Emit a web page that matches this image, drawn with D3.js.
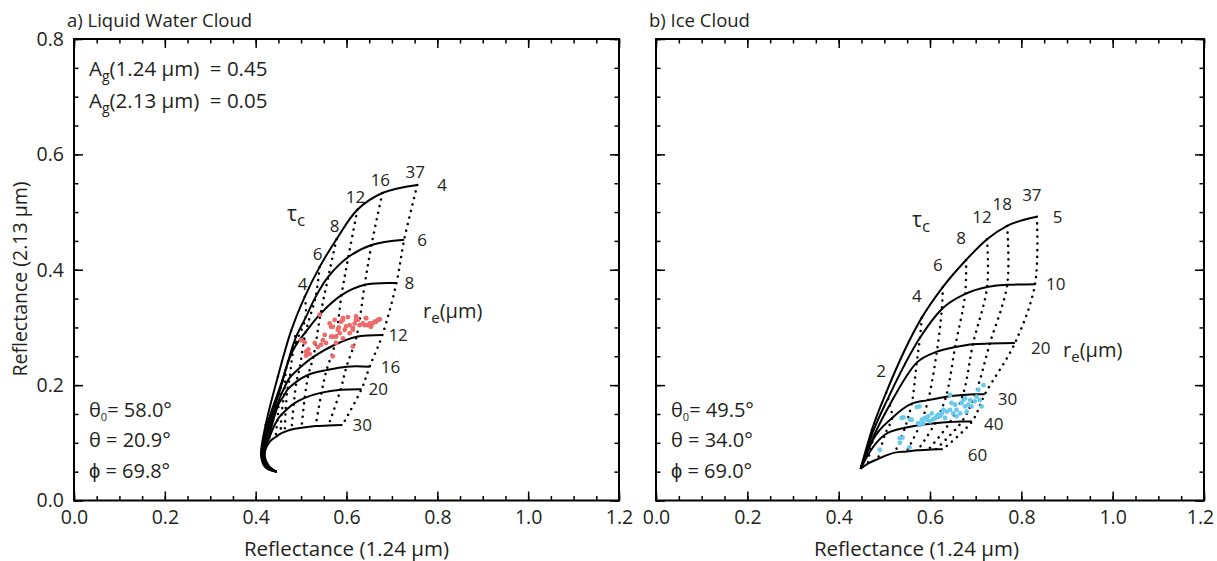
<!DOCTYPE html>
<html>
<head>
<meta charset="utf-8">
<script src="https://cdn.jsdelivr.net/npm/d3@7"></script>
<style>
  body { margin: 0; background: #fff; }
  svg text { font-family: "Open Sans", sans-serif; fill: #231f20; }
  .tick text { font-size: 19.5px; }
</style>
</head>
<body>
<svg id="chart" width="1217" height="561"></svg>
<script>

// shared axes
const xTicks = [0, 0.2, 0.4, 0.6, 0.8, 1.0, 1.2];
const yTicks = [0, 0.2, 0.4, 0.6, 0.8];

// liquid water cloud lookup table: rows = effective radius, columns = optical thickness
const liqRe = [4, 6, 8, 12, 16, 20, 30];
const liqTau = [0, 0.25, 0.5, 1, 2, 3, 4, 6, 8, 12, 16, 37];
const liqTauLabels = [4, 6, 8, 12, 16, 37];
const liqR124 = [
    [0.446, 0.422, 0.412, 0.422, 0.449, 0.478, 0.508, 0.541, 0.578, 0.624, 0.679, 0.756],
    [0.446, 0.423, 0.413, 0.424, 0.459, 0.488, 0.510, 0.532, 0.560, 0.604, 0.655, 0.727],
    [0.446, 0.424, 0.414, 0.426, 0.455, 0.468, 0.484, 0.510, 0.543, 0.589, 0.640, 0.710],
    [0.446, 0.425, 0.415, 0.427, 0.453, 0.464, 0.475, 0.497, 0.527, 0.574, 0.622, 0.679],
    [0.446, 0.426, 0.416, 0.429, 0.451, 0.462, 0.470, 0.490, 0.516, 0.556, 0.600, 0.651],
    [0.446, 0.427, 0.418, 0.430, 0.448, 0.457, 0.466, 0.484, 0.508, 0.545, 0.587, 0.633],
    [0.446, 0.429, 0.420, 0.431, 0.444, 0.455, 0.464, 0.479, 0.501, 0.532, 0.560, 0.591]
];
const liqR213 = [
    [0.050, 0.057, 0.077, 0.131, 0.215, 0.294, 0.353, 0.405, 0.453, 0.504, 0.533, 0.547],
    [0.050, 0.057, 0.077, 0.128, 0.209, 0.282, 0.317, 0.353, 0.388, 0.422, 0.443, 0.452],
    [0.050, 0.057, 0.077, 0.123, 0.195, 0.232, 0.263, 0.292, 0.324, 0.356, 0.374, 0.377],
    [0.050, 0.058, 0.078, 0.117, 0.178, 0.197, 0.213, 0.230, 0.249, 0.270, 0.284, 0.287],
    [0.050, 0.058, 0.079, 0.112, 0.168, 0.181, 0.192, 0.206, 0.218, 0.226, 0.232, 0.232],
    [0.050, 0.059, 0.080, 0.109, 0.140, 0.149, 0.156, 0.168, 0.178, 0.187, 0.192, 0.193],
    [0.050, 0.060, 0.081, 0.102, 0.110, 0.116, 0.119, 0.123, 0.126, 0.129, 0.130, 0.131]
];
// observed pixels (liquid)
const liqObsX = [0.541,0.500,0.508,0.517,0.511,0.548,0.552,0.563,0.570,0.574,0.581,0.588,0.592,0.599,
    0.607,0.614,0.621,0.621,0.629,0.636,0.643,0.647,0.651,0.658,0.662,0.669,0.673,0.607,0.614,0.570,
    0.566,0.577,0.585,0.511,0.519,0.537,0.544,0.555,0.566,0.570,0.577,0.592,0.596,0.592,0.614,0.618,
    0.625,0.640,0.643,0.654,0.665,0.673,0.530,0.516,0.603,0.583];
const liqObsY = [0.322,0.278,0.274,0.254,0.258,0.278,0.287,0.307,0.301,0.313,0.296,0.310,0.316,0.302,
    0.304,0.299,0.313,0.319,0.304,0.307,0.316,0.304,0.307,0.307,0.310,0.313,0.314,0.290,0.267,0.250,
    0.284,0.284,0.290,0.251,0.254,0.266,0.270,0.273,0.301,0.284,0.273,0.313,0.296,0.281,0.296,0.307,
    0.313,0.304,0.316,0.301,0.310,0.314,0.273,0.262,0.318,0.300];

// ice cloud lookup table
const iceRe = [5, 10, 20, 30, 40, 60];
const iceTau = [0, 1, 2, 4, 6, 8, 12, 18, 37];
const iceTauLabels = [2, 4, 6, 8, 12, 18, 37];
const iceR124 = [
    [0.448, 0.473, 0.504, 0.582, 0.628, 0.679, 0.725, 0.769, 0.834],
    [0.448, 0.475, 0.508, 0.578, 0.626, 0.677, 0.725, 0.769, 0.830],
    [0.448, 0.477, 0.512, 0.571, 0.615, 0.655, 0.694, 0.731, 0.786],
    [0.448, 0.475, 0.517, 0.560, 0.596, 0.635, 0.672, 0.699, 0.720],
    [0.448, 0.468, 0.501, 0.545, 0.578, 0.611, 0.644, 0.670, 0.692],
    [0.448, 0.464, 0.486, 0.523, 0.549, 0.573, 0.596, 0.613, 0.628]
];
const iceR213 = [
    [0.055, 0.123, 0.187, 0.317, 0.370, 0.417, 0.453, 0.476, 0.492],
    [0.055, 0.119, 0.177, 0.282, 0.332, 0.358, 0.370, 0.374, 0.375],
    [0.055, 0.112, 0.166, 0.239, 0.258, 0.266, 0.271, 0.272, 0.273],
    [0.055, 0.105, 0.143, 0.168, 0.174, 0.180, 0.183, 0.184, 0.184],
    [0.055, 0.084, 0.114, 0.126, 0.131, 0.134, 0.136, 0.137, 0.137],
    [0.055, 0.064, 0.072, 0.083, 0.085, 0.087, 0.088, 0.089, 0.089]
];
// observed pixels (ice)
const iceObsX = [0.490,0.534,0.540,0.555,0.542,0.560,0.571,0.577,0.574,0.582,0.589,0.596,0.600,0.604,
    0.607,0.615,0.622,0.626,0.629,0.633,0.637,0.644,0.647,0.651,0.655,0.658,0.666,0.669,0.673,0.677,
    0.680,0.684,0.688,0.691,0.698,0.702,0.706,0.709,0.713,0.717,0.644,0.677,0.585,0.578,0.593,0.618,
    0.612,0.658,0.538,0.556,0.534];
const iceObsY = [0.088,0.100,0.109,0.092,0.144,0.140,0.162,0.163,0.134,0.140,0.143,0.146,0.137,0.151,
    0.141,0.146,0.146,0.151,0.157,0.143,0.154,0.157,0.169,0.151,0.166,0.157,0.151,0.169,0.174,0.163,
    0.154,0.166,0.174,0.163,0.172,0.180,0.192,0.174,0.163,0.200,0.183,0.177,0.134,0.131,0.140,0.149,
    0.143,0.146,0.143,0.140,0.108];

const svg = d3.select("#chart");
const plotTop = 39, plotBottom = 500.5;

// text with subscript pieces: [string, fontSize, baselineShift]
function richText(g, x, y, size, parts) {
    const t = g.append("text").attr("x", x).attr("y", y)
        .style("font-size", size + "px").style("white-space", "pre");
    let shift = 0;
    parts.forEach(([s, fs, off]) => {
        off = off || 0;
        t.append("tspan").attr("dy", off - shift).style("font-size", (fs || size) + "px").text(s);
        shift = off;
    });
    return t;
}

function drawPanel(p) {
    const x = d3.scaleLinear().domain([0, 1.2]).range([p.left, p.right]);
    const y = d3.scaleLinear().domain([0, 0.8]).range([plotBottom, plotTop]);
    const g = svg.append("g");

    const minorX = d3.range(0, 1.2001, 0.05);
    const minorY = d3.range(0, 0.8001, 0.05);

    // inward ticks on all four sides
    const axes = [
        [d3.axisBottom(x), `translate(0,${plotBottom})`, minorX, xTicks, true],
        [d3.axisTop(x), `translate(0,${plotTop})`, minorX, xTicks, false],
        [d3.axisLeft(y), `translate(${p.left},0)`, minorY, yTicks, p.yLabels],
        [d3.axisRight(y), `translate(${p.right},0)`, minorY, yTicks, false]
    ];
    axes.forEach(([ax, tr, minor, major, labels], k) => {
        g.append("g").attr("transform", tr)
            .call(ax.tickValues(minor).tickSize(-4.5).tickSizeOuter(0).tickFormat(""))
            .call(s => s.select(".domain").remove())
            .selectAll("line").attr("stroke-width", 1.5);
        const a = g.append("g").attr("transform", tr)
            .call(ax.tickValues(major).tickSize(-9).tickSizeOuter(0).tickPadding(10)
                .tickFormat(labels ? d3.format(".1f") : ""))
            .call(s => s.select(".domain").remove());
        a.selectAll("line").attr("stroke-width", 1.5);
        // keep the last x label inside the page
        if (k === 0 && p.lastLabelDx) {
            a.selectAll(".tick text").filter(d => d === 1.2).attr("dx", p.lastLabelDx);
        }
    });

    g.append("rect")
        .attr("x", x(0)).attr("y", y(0.8))
        .attr("width", x(1.2) - x(0)).attr("height", y(0) - y(0.8))
        .attr("fill", "none").attr("stroke", "#000").attr("stroke-width", 2);

    const tauLine = d3.line().x(d => x(d[0])).y(d => y(d[1])).curve(d3.curveCatmullRom.alpha(0.5));
    const reLine = d3.line().x(d => x(d[0])).y(d => y(d[1])).curve(p.reCurve);

    // constant optical thickness: dotted
    p.tau.forEach((t, j) => {
        if (t < 1) return;
        const pts = p.re.map((r, i) => [p.r124[i][j], p.r213[i][j]]);
        g.append("path").attr("d", tauLine(pts))
            .attr("fill", "none").attr("stroke", "#000").attr("stroke-width", 2.5)
            .attr("stroke-linecap", "round").attr("stroke-dasharray", "0.1 6.6");
    });

    // constant effective radius: solid
    p.re.forEach((r, i) => {
        const pts = p.tau.map((t, j) => [p.r124[i][j], p.r213[i][j]]);
        g.append("path").attr("d", reLine(pts))
            .attr("fill", "none").attr("stroke", "#000").attr("stroke-width", 2);
    });

    // observations
    g.selectAll("circle.obs").data(d3.zip(p.obsX, p.obsY)).enter()
        .append("circle").attr("class", "obs")
        .attr("cx", d => x(d[0])).attr("cy", d => y(d[1])).attr("r", 2.4)
        .attr("fill", p.color);

    // tau labels along the top (smallest r_e) curve
    p.tauLabels.forEach(t => {
        const j = p.tau.indexOf(t);
        g.append("text")
            .attr("x", x(p.r124[0][j]) + p.tauDx).attr("y", y(p.r213[0][j]) + p.tauDy)
            .attr("text-anchor", "middle").style("font-size", "17px").text(t);
    });

    // r_e labels at the end of each curve
    const last = p.tau.length - 1;
    p.re.forEach((r, i) => {
        g.append("text")
            .attr("x", x(p.r124[i][last]) + p.reDx[i]).attr("y", y(p.r213[i][last]) + 6 + p.reDy[i])
            .style("font-size", "17px").text(r);
    });

    richText(g, p.tauC[0], p.tauC[1], 21, [["τ"], ["c", 17, 5]]);
    richText(g, p.reLab[0], p.reLab[1], 20, [["r"], ["e", 15, 5], ["(µm)"]]);

    // title and x axis label
    g.append("text").attr("x", p.left - 7).attr("y", 27).style("font-size", "18.5px").text(p.title);
    g.append("text").attr("x", p.xTitle).attr("y", 556).attr("text-anchor", "middle")
        .style("font-size", "20.5px").text("Reflectance (1.24 µm)");

    // geometry
    const gx = p.left + 15;
    richText(g, gx, 417, 20, [["θ"], ["0", 11, 4], ["= " + p.angles[0]]]);
    richText(g, gx, 447, 20, [["θ = " + p.angles[1]]]);
    richText(g, gx, 478, 20, [["ϕ = " + p.angles[2]]]);
    return g;
}

const left = drawPanel({
    left: 74, right: 619, yLabels: true,
    re: liqRe, tau: liqTau, tauLabels: liqTauLabels, r124: liqR124, r213: liqR213,
    reCurve: d3.curveCatmullRom.alpha(0.5),
    obsX: liqObsX, obsY: liqObsY, color: "#ef6b6b",
    tauDx: -2, tauDy: -7,
    reDx: [20, 13, 8, 6, 11, 7, 10], reDy: [0, 0, 0, 0, 0, 0, 0],
    tauC: [287, 221], reLab: [423, 318],
    title: "a) Liquid Water Cloud", xTitle: 346.5,
    angles: ["58.0°", "20.9°", "69.8°"]
});

const right = drawPanel({
    left: 656, right: 1204, yLabels: false, lastLabelDx: -4,
    re: iceRe, tau: iceTau, tauLabels: iceTauLabels, r124: iceR124, r213: iceR213,
    reCurve: d3.curveMonotoneX,
    obsX: iceObsX, obsY: iceObsY, color: "#6cc9ee",
    tauDx: -5, tauDy: -16,
    reDx: [16, 11, 16, 13, 12, 25], reDy: [0, 0, 5, 5, 3, 6],
    tauC: [912, 227], reLab: [1063, 357],
    title: "b) Ice Cloud", xTitle: 916.5,
    angles: ["49.5°", "34.0°", "69.0°"]
});

// left panel surface albedo
richText(left, 89, 76, 20.5, [["A"], ["g", 14, 5], ["(1.24 µm)  = 0.45"]]);
richText(left, 89, 108, 20.5, [["A"], ["g", 14, 5], ["(2.13 µm)  = 0.05"]]);

// y axis title
svg.append("text")
    .attr("transform", "translate(27,279) rotate(-90)")
    .attr("text-anchor", "middle").style("font-size", "19.5px")
    .text("Reflectance  (2.13 µm)");

</script>
</body>
</html>
